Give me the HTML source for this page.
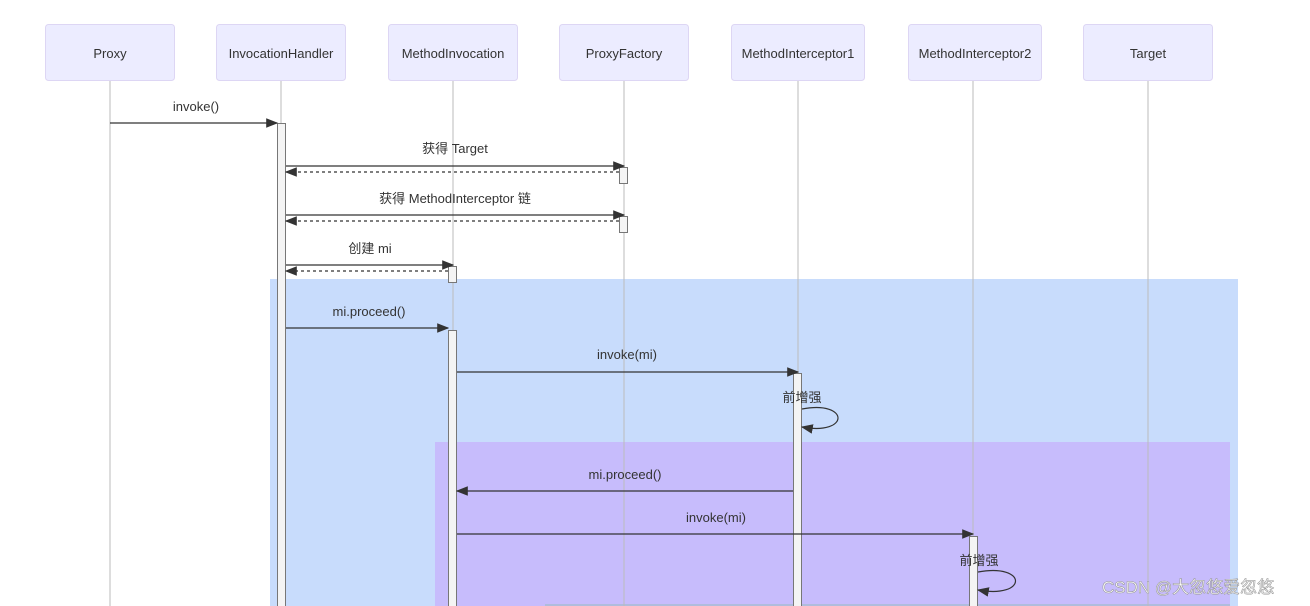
<!DOCTYPE html>
<html><head><meta charset="utf-8"><style>
html,body{margin:0;padding:0;background:#fff;width:1310px;height:606px;overflow:hidden}
text{font-family:"Liberation Sans","Noto Sans CJK SC",sans-serif;font-size:13px;fill:#333}
</style></head><body>
<svg width="1310" height="606" xmlns="http://www.w3.org/2000/svg">
<defs>
<marker id="a" markerWidth="10" markerHeight="8" refX="9" refY="4" orient="auto"><path d="M0,0 L10,4 L0,8 z" fill="#333"/></marker>
</defs>
<rect x="270" y="279" width="968" height="327" fill="#c8dcfc"/>
<rect x="435" y="442" width="795" height="164" fill="#c7bcfc"/>
<line x1="545" y1="605" x2="1230" y2="605" stroke="#9bb" stroke-width="1"/>
<g stroke="#bbb" stroke-width="1">
<line x1="110" y1="80" x2="110" y2="606"/><line x1="281" y1="80" x2="281" y2="606"/>
<line x1="453" y1="80" x2="453" y2="606"/><line x1="624" y1="80" x2="624" y2="606"/>
<line x1="798" y1="80" x2="798" y2="606"/><line x1="973" y1="80" x2="973" y2="606"/>
<line x1="1148" y1="80" x2="1148" y2="606"/>
</g>
<g fill="#ececff" stroke="#ddd6f4">
<rect x="45.5" y="24.5" width="129" height="56" rx="3"/><rect x="216.5" y="24.5" width="129" height="56" rx="3"/>
<rect x="388.5" y="24.5" width="129" height="56" rx="3"/><rect x="559.5" y="24.5" width="129" height="56" rx="3"/>
<rect x="731.5" y="24.5" width="133" height="56" rx="3"/><rect x="908.5" y="24.5" width="133" height="56" rx="3"/>
<rect x="1083.5" y="24.5" width="129" height="56" rx="3"/>
</g>
<g text-anchor="middle">
<text x="110" y="58">Proxy</text><text x="281" y="58">InvocationHandler</text>
<text x="453" y="58">MethodInvocation</text><text x="624" y="58">ProxyFactory</text>
<text x="798" y="58">MethodInterceptor1</text><text x="975" y="58">MethodInterceptor2</text>
<text x="1148" y="58">Target</text>
</g>
<g fill="#f4f4f4" stroke="#777">
<rect x="277.5" y="123.5" width="8" height="490"/>
<rect x="619.5" y="167.5" width="8" height="16"/><rect x="619.5" y="216.5" width="8" height="16"/>
<rect x="448.5" y="266.5" width="8" height="16"/><rect x="448.5" y="330.5" width="8" height="290"/>
<rect x="793.5" y="373.5" width="8" height="240"/><rect x="969.5" y="536.5" width="8" height="80"/>
</g>
<g stroke="#333" stroke-width="1.2" fill="none">
<line x1="110" y1="123" x2="277" y2="123" marker-end="url(#a)"/>
<line x1="286" y1="166" x2="624" y2="166" marker-end="url(#a)"/>
<line x1="619" y1="172" x2="286" y2="172" stroke-dasharray="3,3" marker-end="url(#a)"/>
<line x1="286" y1="215" x2="624" y2="215" marker-end="url(#a)"/>
<line x1="619" y1="221" x2="286" y2="221" stroke-dasharray="3,3" marker-end="url(#a)"/>
<line x1="286" y1="265" x2="453" y2="265" marker-end="url(#a)"/>
<line x1="448" y1="271" x2="286" y2="271" stroke-dasharray="3,3" marker-end="url(#a)"/>
<line x1="286" y1="328" x2="448" y2="328" marker-end="url(#a)"/>
<line x1="457" y1="372" x2="798" y2="372" marker-end="url(#a)"/>
<path d="M802,409 C850,400 850,436 802,427" marker-end="url(#a)"/>
<line x1="793" y1="491" x2="457" y2="491" marker-end="url(#a)"/>
<line x1="457" y1="534" x2="973" y2="534" marker-end="url(#a)"/>
<path d="M978,572 C1028,563 1028,599 978,590" marker-end="url(#a)"/>
</g>
<g text-anchor="middle">
<text x="196" y="111">invoke()</text>
<text x="455" y="153">获得 Target</text>
<text x="455" y="203">获得 MethodInterceptor 链</text>
<text x="370" y="253">创建 mi</text>
<text x="369" y="316">mi.proceed()</text>
<text x="627" y="359">invoke(mi)</text>
<text x="802" y="402">前增强</text>
<text x="625" y="479">mi.proceed()</text>
<text x="716" y="522">invoke(mi)</text>
<text x="979" y="565">前增强</text>
</g>
<text x="1102" y="593" style="font-size:17px;fill:#fff;stroke:#999;stroke-width:0.6">CSDN @大忽悠爱忽悠</text>
</svg>
</body></html>
